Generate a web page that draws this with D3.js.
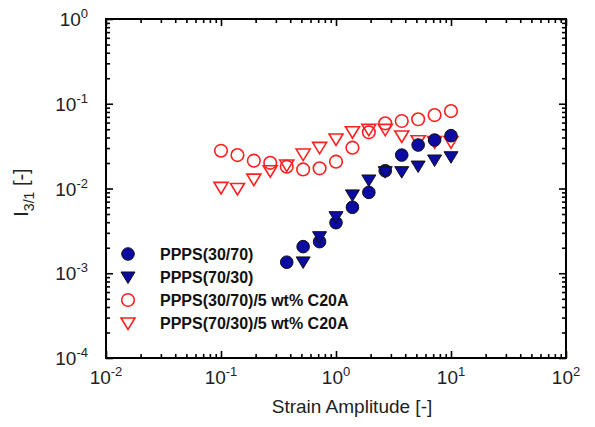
<!DOCTYPE html>
<html>
<head>
<meta charset="utf-8">
<script src="https://cdn.jsdelivr.net/npm/d3@7"></script>
<style>
  body { margin: 0; background: #fff; }
  svg { display: block; font-family: Arial, "Liberation Sans", sans-serif; }
</style>
</head>
<body>
<div id="chart-area"></div>
<script>
// strain amplitudes (7 points per decade)
const strainRed = [0.1, 0.139, 0.193, 0.268, 0.373, 0.518, 0.72, 1.0, 1.39, 1.93, 2.68, 3.73, 5.18, 7.2, 10];
const strainBlue30 = [0.373, 0.518, 0.72, 1.0, 1.39, 1.93, 2.68, 3.73, 5.18, 7.2, 10];
const strainBlue70 = [0.518, 0.72, 1.0, 1.39, 1.93, 2.68, 3.73, 5.18, 7.2, 10];

// I3/1 values
const ppps3070 = [0.00135, 0.00206, 0.00236, 0.00395, 0.006, 0.009, 0.0162, 0.0248, 0.0326, 0.0373, 0.042];
const ppps7030 = [0.00136, 0.0027, 0.00465, 0.0084, 0.0126, 0.0158, 0.0158, 0.0184, 0.0217, 0.0237];
const ppps3070c = [0.0279, 0.0248, 0.0213, 0.0201, 0.0181, 0.0168, 0.0173, 0.0207, 0.0303, 0.046, 0.0588, 0.0626, 0.0656, 0.0736, 0.082];
const ppps7030c = [0.0103, 0.0100, 0.0129, 0.0162, 0.0189, 0.0255, 0.0306, 0.0384, 0.0468, 0.0499, 0.0499, 0.0416, 0.0366, 0.0357, 0.0357];

const legendLabels = ["PPPS(30/70)", "PPPS(70/30)", "PPPS(30/70)/5 wt% C20A", "PPPS(70/30)/5 wt% C20A"];

const xDecades = [-2, -1, 0, 1, 2];
const yDecades = [-4, -3, -2, -1, 0];

const blue = "#0b0ba3";
const red = "#ff1f1f";

const series = [
    { name: legendLabels[0], xs: strainBlue30, ys: ppps3070, shape: "circle", filled: true },
    { name: legendLabels[1], xs: strainBlue70, ys: ppps7030, shape: "tri", filled: true },
    { name: legendLabels[2], xs: strainRed, ys: ppps3070c, shape: "circle", filled: false },
    { name: legendLabels[3], xs: strainRed, ys: ppps7030c, shape: "tri", filled: false }
];

const W = 595, H = 427;
const margin = { top: 19, right: 29, bottom: 69, left: 106 };
const width = W - margin.left - margin.right;
const height = H - margin.top - margin.bottom;

const svg = d3.select("#chart-area").append("svg")
    .attr("width", W)
    .attr("height", H);

const g = svg.append("g")
    .attr("transform", "translate(" + margin.left + "," + margin.top + ")");

const x = d3.scaleLog().domain([1e-2, 1e2]).range([0, width]);
const y = d3.scaleLog().domain([1e-4, 1e0]).range([height, 0]);

// minor tick values
function minors(decades) {
    let out = [];
    for (let i = 0; i < decades.length - 1; i++) {
        for (let m = 2; m <= 9; m++) out.push(m * Math.pow(10, decades[i]));
    }
    return out;
}
const xMajor = xDecades.map(d => Math.pow(10, d));
const yMajor = yDecades.map(d => Math.pow(10, d));

function styleAxis(sel) {
    sel.select(".domain").remove();
    sel.selectAll(".tick line").attr("stroke", "#000").attr("stroke-width", 1.6);
}

// minor + major ticks on all 4 sides, pointing inwards
[[d3.axisBottom, x, "translate(0," + height + ")"], [d3.axisTop, x, "translate(0,0)"]].forEach(([ax, sc, tr]) => {
    g.append("g").attr("transform", tr)
        .call(ax(sc).tickValues(minors(xDecades)).tickSize(-4).tickFormat(""))
        .call(styleAxis);
    g.append("g").attr("transform", tr)
        .call(ax(sc).tickValues(xMajor).tickSize(-7).tickFormat(""))
        .call(styleAxis);
});
[[d3.axisLeft, y, "translate(0,0)"], [d3.axisRight, y, "translate(" + width + ",0)"]].forEach(([ax, sc, tr]) => {
    g.append("g").attr("transform", tr)
        .call(ax(sc).tickValues(minors(yDecades)).tickSize(-4).tickFormat(""))
        .call(styleAxis);
    g.append("g").attr("transform", tr)
        .call(ax(sc).tickValues(yMajor).tickSize(-7).tickFormat(""))
        .call(styleAxis);
});

// frame
g.append("rect")
    .attr("width", width)
    .attr("height", height)
    .attr("fill", "none")
    .attr("stroke", "#000")
    .attr("stroke-width", 2);

// tick labels with superscripts
function powLabel(sel, exp) {
    sel.append("tspan").text("10");
    sel.append("tspan").attr("dy", -8).attr("font-size", 13).text(exp);
}
xDecades.forEach(d => {
    let t = g.append("text")
        .attr("x", x(Math.pow(10, d)))
        .attr("y", height + 26)
        .attr("text-anchor", "middle")
        .attr("font-size", 19)
        .attr("fill", "#222");
    powLabel(t, d);
});
yDecades.forEach(d => {
    let t = g.append("text")
        .attr("x", -18)
        .attr("y", y(Math.pow(10, d)) + 7)
        .attr("text-anchor", "end")
        .attr("font-size", 19)
        .attr("fill", "#222");
    powLabel(t, d);
});

// axis titles
g.append("text")
    .attr("x", width / 2 + 16)
    .attr("y", height + 55)
    .attr("text-anchor", "middle")
    .attr("font-size", 19)
    .attr("fill", "#222")
    .text("Strain Amplitude [-]");

let yt = g.append("text")
    .attr("transform", "translate(" + (-78) + "," + (height / 2 + 4) + ") rotate(-90)")
    .attr("text-anchor", "middle")
    .attr("font-size", 20)
    .attr("fill", "#222");
yt.append("tspan").text("I");
yt.append("tspan").attr("dy", 6).attr("font-size", 14).text("3/1");
yt.append("tspan").attr("dy", -6).text(" [-]");

// markers
function drawMarker(sel, s, cx, cy) {
    let fill = s.filled ? blue : "none";
    let stroke = s.filled ? "#111" : red;
    let sw = s.filled ? 1 : 1.6;
    if (s.shape === "circle") {
        sel.append("circle")
            .attr("cx", cx).attr("cy", cy).attr("r", 6.3)
            .attr("fill", fill).attr("stroke", stroke).attr("stroke-width", sw);
    } else {
        let p = d3.path();
        p.moveTo(cx - 7, cy - 5);
        p.lineTo(cx + 7, cy - 5);
        p.lineTo(cx, cy + 6.5);
        p.closePath();
        sel.append("path")
            .attr("d", p.toString())
            .attr("fill", fill).attr("stroke", stroke).attr("stroke-width", sw)
            .attr("stroke-linejoin", "miter");
    }
}

// open red series drawn first, filled blue on top
[series[2], series[3], series[0], series[1]].forEach(s => {
    let sg = g.append("g").attr("class", "series");
    s.xs.forEach((xv, i) => drawMarker(sg, s, x(xv), y(s.ys[i])));
});

// legend
const legend = g.append("g").attr("transform", "translate(" + 22 + "," + 235 + ")");
series.forEach((s, i) => {
    let row = legend.append("g").attr("transform", "translate(0," + (i * 23) + ")");
    drawMarker(row, s, 0, 0);
    row.append("text")
        .attr("x", 32)
        .attr("y", 6)
        .attr("font-size", 16)
        .attr("font-weight", "bold")
        .attr("fill", "#111")
        .text(s.name);
});
</script>
</body>
</html>
